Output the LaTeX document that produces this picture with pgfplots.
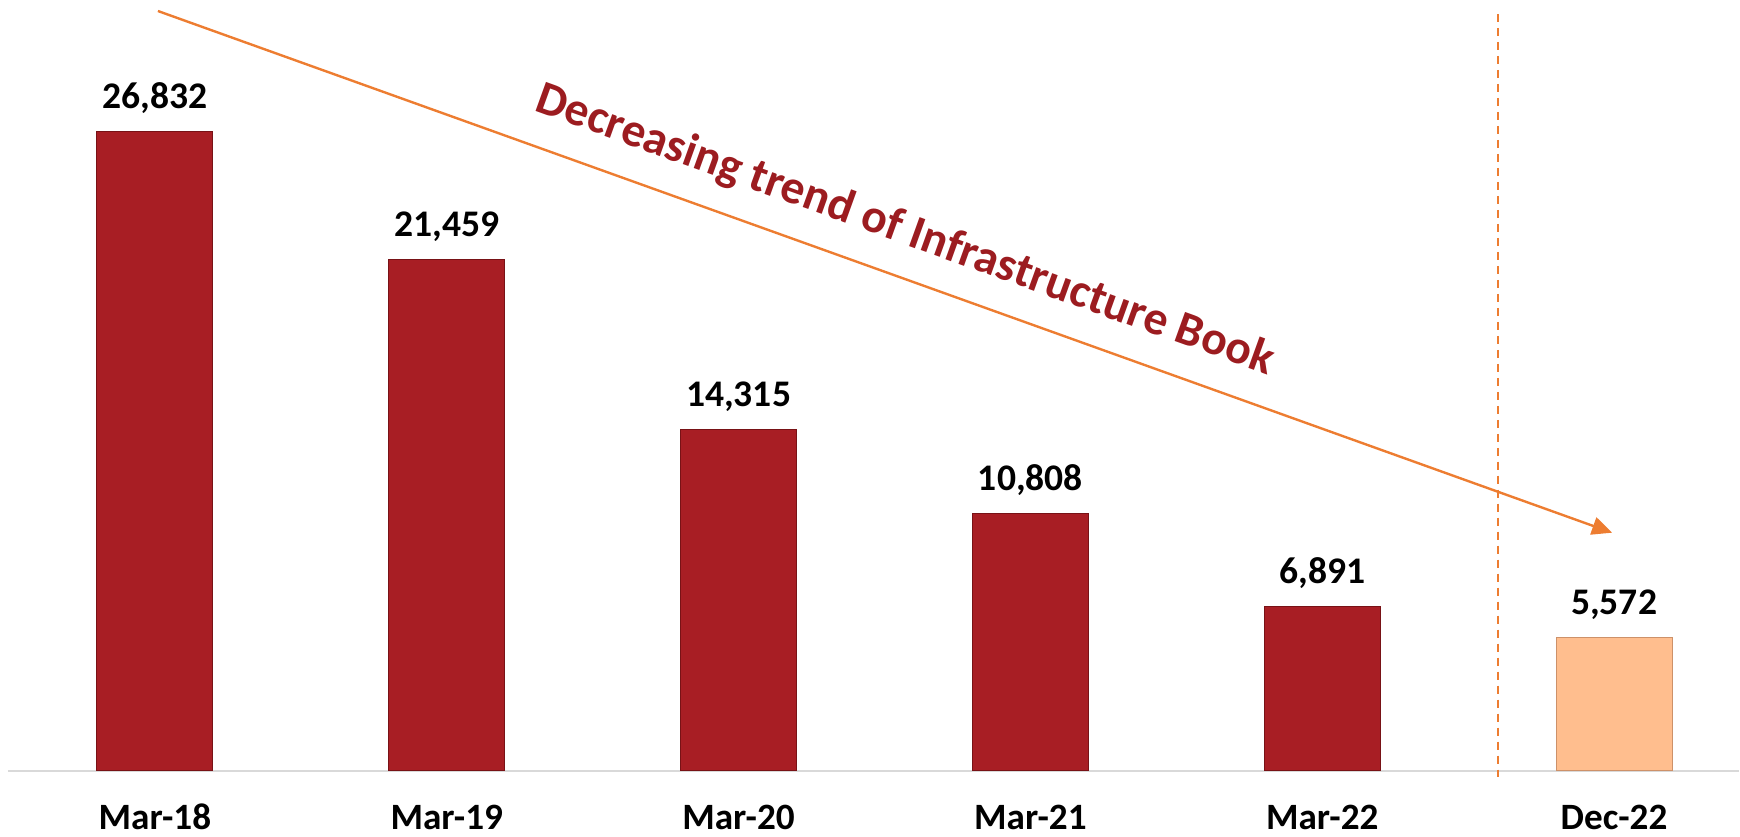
\documentclass[border=0pt]{standalone}
\usepackage{fontspec}
\setmainfont{Carlito}
\usepackage{pgfplots}
\pgfplotsset{compat=1.18}
\usetikzlibrary{arrows.meta}

\definecolor{barred}{RGB}{168,30,36}
\definecolor{barredEdge}{RGB}{120,18,22}
\definecolor{peach}{RGB}{255,190,142}
\definecolor{peachEdge}{RGB}{205,145,105}
\definecolor{trendorange}{RGB}{237,125,49}
\definecolor{textred}{RGB}{156,28,32}
\definecolor{axisgray}{RGB}{217,217,217}

\begin{document}
\begin{tikzpicture}
% 1 px of the reference = 0.5pt, origin at the top left corner
\begin{scope}[x=0.5pt,y=-0.5pt]
  \useasboundingbox (0,0) rectangle (1740,837);
\end{scope}

\begin{axis}[
    at={(4pt,-385.5pt)}, anchor=south west,
    scale only axis,
    width=866pt, height=385.5pt,
    xmin=-0.5034, xmax=5.4281,
    ymin=0, ymax=32375,
    axis y line=none,
    axis x line*=bottom,
    x axis line style={draw=axisgray, line width=1pt, -},
    xtick={0,...,5},
    xticklabels={Mar-18,Mar-19,Mar-20,Mar-21,Mar-22,Dec-22},
    major tick length=0pt,
    xticklabel style={font=\fontsize{18.6}{21}\selectfont\bfseries, anchor=base, yshift=-29.5pt},
    ybar, bar width=58pt, bar shift=0pt,
    clip=false,
    /pgf/number format/assume math mode=true,
    /pgf/number format/.cd, fixed, precision=0, 1000 sep={,},
    /pgfplots/.cd,
    nodes near coords={\pgfmathprintnumber{\pgfplotspointmeta}},
    nodes near coords style={font=\fontsize{18.8}{21}\selectfont\bfseries, black, anchor=base, yshift=11.5pt},
  ]
  \addplot[fill=barred, draw=barredEdge, line width=0.5pt]
    coordinates {(0,26832) (1,21459) (2,14315) (3,10808) (4,6891)};
  \addplot[fill=peach, draw=peachEdge, line width=0.5pt]
    coordinates {(5,5572)};
\end{axis}

\begin{scope}[x=0.5pt,y=-0.5pt]
  % separator before the latest period
  \draw[trendorange, line width=1.2pt, dash pattern=on 4pt off 3pt] (1499,14) -- (1499,777);
  % trend arrow
  \draw[trendorange, line width=1.2pt, -{Triangle[length=10pt,width=9pt]}] (158,11) -- (1613,533);
  \node[textred, rotate=-19.8, anchor=base, font=\fontsize{23.8}{27}\selectfont\bfseries]
    at (901,243) {Decreasing trend of Infrastructure Book};
\end{scope}
\end{tikzpicture}
\end{document}
